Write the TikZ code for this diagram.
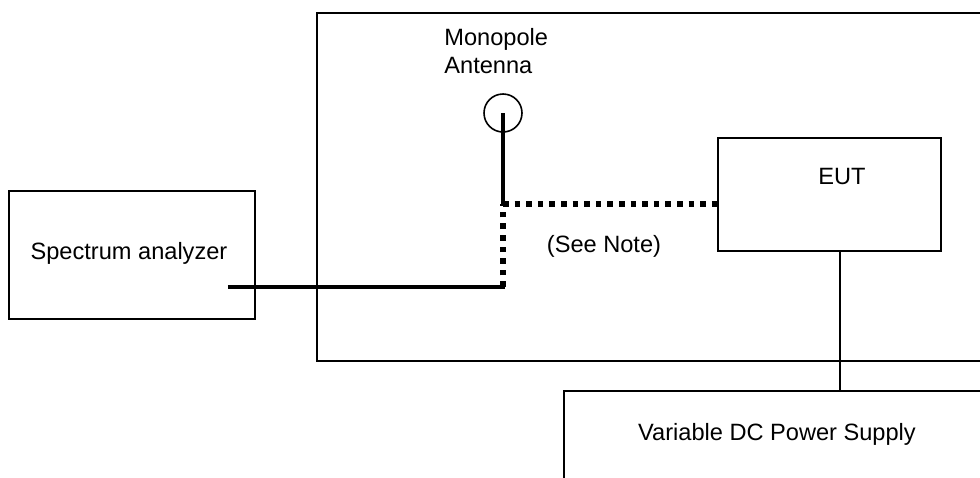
\documentclass[tikz,border=0pt]{standalone}
\usepackage{fontspec}
\setmainfont{Liberation Sans}
\begin{document}
\begin{tikzpicture}[x=0.5pt,y=-0.5pt,
  box/.style={draw=black,line width=1pt,inner sep=0pt,anchor=north west},
  lbl/.style={font=\fontsize{11.8}{14}\selectfont,inner sep=0pt},
  cable/.style={line width=2.3pt},
  dotcable/.style={line width=2.6pt,line cap=butt,dash pattern=on 2.8pt off 3pt},
  wire/.style={line width=1pt}]
\useasboundingbox (0,0) rectangle (980,477);
\clip (0,0) rectangle (980,477);
\fill[white] (0,0) rectangle (980,477);
% boxes
\node[box,minimum width=350pt,minimum height=174pt] (room) at (316,12) {};
\node[box,minimum width=123pt,minimum height=64pt] (sa) at (8,190) {};
\node[lbl] at (129,253) {Spectrum analyzer};
\node[box,minimum width=111.5pt,minimum height=56.5pt] (eut) at (717,137) {};
\node[lbl] at (842,176) {EUT};
\node[box,minimum width=230pt,minimum height=60pt] (ps) at (563,390) {};
\node[lbl] at (777,434) {Variable DC Power Supply};
% antenna
\node[draw=black,line width=0.8pt,circle,minimum size=19pt,inner sep=0pt] (ant) at (503,113) {};
\node[lbl,align=left,anchor=north west] (antlbl) at (444,28) {Monopole\\Antenna};
\node[lbl] (note) at (604,246) {(See Note)};
% connectors
\coordinate (saend) at (230,287);
\coordinate (corner) at (503,287);
\coordinate (junc) at (503,204);
\draw[cable] ([xshift=-1.1pt]saend) -- ([xshift=1.1pt]corner);
\draw[dotcable] (corner) -- (junc);
\draw[dotcable] (junc) -- (eut.west |- junc);
\draw[cable] (junc) -- (ant.center);
\draw[wire] ([xshift=5pt]eut.south) -- ([xshift=5pt]eut.south |- ps.north);
\end{tikzpicture}
\end{document}
